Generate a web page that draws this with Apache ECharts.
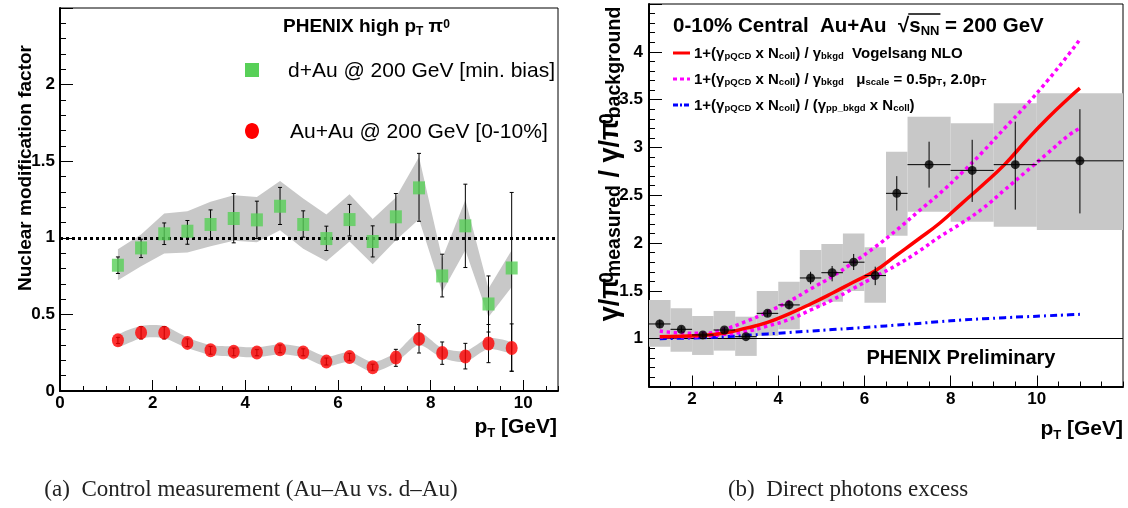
<!DOCTYPE html>
<html><head><meta charset="utf-8">
<script src="https://cdn.jsdelivr.net/npm/echarts@6/dist/echarts.min.js"></script>
<style>html,body{margin:0;padding:0;background:#fff}#c{width:1128px;height:508px}</style>
</head><body><div id="c"></div>
<script>
// ---------- Panel (a): nuclear modification factor ----------
const ptA = [1.25,1.75,2.25,2.75,3.25,3.75,4.25,4.75,5.25,5.75,6.25,6.75,7.25,7.75,8.25,8.75,9.25,9.75];
const dAuR      = [0.821,0.934,1.026,1.043,1.087,1.126,1.117,1.206,1.087,0.995,1.119,0.976,1.137,1.326,0.751,1.078,0.568,0.803];
const dAuErrLo  = [0.767,0.871,0.956,0.958,0.991,0.967,0.995,1.087,1.004,0.917,1.012,0.875,0.986,1.108,0.614,0.806,0.385,0.129];
const dAuErrHi  = [0.875,0.991,1.097,1.113,1.182,1.289,1.239,1.329,1.176,1.076,1.218,1.078,1.289,1.551,0.893,1.350,0.751,1.296];
const dAuBandLo = [0.723,0.815,0.897,0.904,0.945,0.980,0.971,1.050,0.928,0.847,0.976,0.828,0.984,1.121,0.647,0.919,0.483,0.679];
const dAuBandHi = [0.926,1.021,1.159,1.174,1.235,1.278,1.267,1.370,1.257,1.152,1.285,1.122,1.263,1.528,0.865,1.246,0.669,0.919];
const auAuR      = [0.331,0.381,0.381,0.314,0.266,0.257,0.251,0.272,0.251,0.192,0.222,0.155,0.218,0.340,0.248,0.225,0.310,0.281];
const auAuErrLo  = [0.310,0.340,0.340,0.290,0.240,0.230,0.230,0.250,0.230,0.170,0.200,0.135,0.161,0.248,0.174,0.144,0.185,0.129];
const auAuErrHi  = [0.350,0.420,0.420,0.340,0.290,0.280,0.270,0.300,0.275,0.215,0.245,0.175,0.272,0.434,0.320,0.311,0.434,0.438];
const auAuBandLo = [0.290,0.345,0.345,0.280,0.235,0.225,0.220,0.240,0.220,0.160,0.190,0.125,0.185,0.300,0.215,0.190,0.275,0.250];
const auAuBandHi = [0.365,0.425,0.425,0.350,0.300,0.290,0.285,0.305,0.285,0.225,0.255,0.190,0.250,0.380,0.280,0.260,0.345,0.315];
const ticksA = [0,2,4,6,8,10];

// ---------- Panel (b): direct photon excess ----------
const ptB    = [1.25,1.75,2.25,2.75,3.25,3.75,4.25,4.75,5.25,5.75,6.25,6.75,7.5,8.5,9.5,11.0];
const binLo  = [1.0,1.5,2.0,2.5,3.0,3.5,4.0,4.5,5.0,5.5,6.0,6.5,7,8,9,10];
const binHi  = [1.5,2.0,2.5,3.0,3.5,4.0,4.5,5.0,5.5,6.0,6.5,7.0,8,9,10,12];
const ratio  = [1.154,1.098,1.039,1.091,1.021,1.265,1.353,1.635,1.690,1.800,1.660,2.520,2.820,2.760,2.820,2.860];
const statLo = [1.110,1.070,1.010,1.060,1.000,1.230,1.310,1.570,1.600,1.718,1.560,2.340,2.580,2.430,2.350,2.310];
const statHi = [1.200,1.130,1.070,1.120,1.040,1.300,1.400,1.700,1.760,1.886,1.753,2.700,3.060,3.080,3.270,3.400];
const sysLo  = [0.916,0.864,0.830,0.875,0.820,1.030,1.098,1.335,1.387,1.500,1.377,2.077,2.328,2.224,2.170,2.137];
const sysHi  = [1.405,1.318,1.237,1.290,1.230,1.500,1.596,1.928,1.990,2.100,1.956,2.956,3.322,3.253,3.462,3.567];
const thPt   = [1.25,1.75,2.25,2.75,3.25,3.75,4.25,4.75,5.25,5.75,6.25,6.75,7.25,7.75,8.25,8.75,9.25,9.75,10.25,10.75,11.0];
const nloCentral = [1.02,1.025,1.035,1.06,1.11,1.17,1.26,1.363,1.475,1.593,1.71,1.875,2.04,2.21,2.41,2.61,2.82,3.07,3.305,3.52,3.62];
const nloUpper   = [1.08,1.06,1.056,1.10,1.18,1.28,1.39,1.52,1.65,1.80,1.96,2.137,2.33,2.52,2.73,2.956,3.20,3.44,3.70,3.98,4.13];
const nloLower   = [1.02,1.02,1.025,1.045,1.075,1.133,1.20,1.30,1.405,1.527,1.65,1.77,1.91,2.067,2.207,2.364,2.555,2.747,2.94,3.13,3.20];
const ppBkgd     = [1.0,1.005,1.01,1.02,1.035,1.05,1.065,1.08,1.095,1.11,1.125,1.143,1.16,1.178,1.195,1.208,1.22,1.23,1.24,1.25,1.255];
const ticksB = [2,4,6,8,10];

const F = "'Liberation Sans', Arial, Helvetica, sans-serif";
const FS = "'Liberation Serif', 'Times New Roman', serif";
const GRAY = '#c8c8c8';
const GREEN = '#58d058';
const zip = (...a) => a[0].map((_, i) => a.map(r => r[i]));

function rich(main, sub, weight, pt, pb) {
  pt = pt == null ? 2 : pt;
  pb = pb == null ? Math.round(main * 0.22) : pb;
  return {
    m: {fontSize: main, fontWeight: weight, fontFamily: F, lineHeight: main, padding: [pt, 0, pb, 0], fill: '#000'},
    d: {fontSize: sub, fontWeight: weight, fontFamily: F, lineHeight: sub, verticalAlign: 'bottom', fill: '#000'},
    u: {fontSize: sub, fontWeight: weight, fontFamily: F, lineHeight: sub, verticalAlign: 'top', fill: '#000'},
    uz: {fontSize: sub, fontWeight: weight, fontFamily: F, lineHeight: sub, verticalAlign: 'top', width: 1, fill: '#000'}
  };
}

function errRender(params, api) {
  const x = api.value(0), lo = api.value(1), hi = api.value(2);
  const p1 = api.coord([x, lo]), p2 = api.coord([x, hi]);
  const c = 2, st = {stroke: '#000', lineWidth: 1};
  return {type: 'group', children: [
    {type: 'line', shape: {x1: p1[0], y1: p1[1], x2: p2[0], y2: p2[1]}, style: st},
    {type: 'line', shape: {x1: p1[0] - c, y1: p1[1], x2: p1[0] + c, y2: p1[1]}, style: st},
    {type: 'line', shape: {x1: p2[0] - c, y1: p2[1], x2: p2[0] + c, y2: p2[1]}, style: st}
  ]};
}
function bandRender(lo, hi, smooth) {
  return function (params, api) {
    if (params.dataIndex !== 0) return null;
    const top = ptA.map((x, i) => api.coord([x, hi[i]]));
    const bot = ptA.map((x, i) => api.coord([x, lo[i]])).reverse();
    return {type: 'polygon', shape: {points: top.concat(bot), smooth: smooth}, style: {fill: GRAY}};
  };
}
function boxRender(params, api) {
  const a = api.coord([api.value(0), api.value(3)]);
  const b = api.coord([api.value(1), api.value(2)]);
  return {type: 'rect', shape: {x: a[0], y: a[1], width: b[0] - a[0], height: b[1] - a[1]}, style: {fill: GRAY}};
}
function statRender(params, api) {
  const x = api.value(0), y = api.value(1);
  const l = api.coord([api.value(2), y]), r = api.coord([api.value(3), y]);
  const b = api.coord([x, api.value(4)]), t = api.coord([x, api.value(5)]);
  const st = {stroke: '#000', lineWidth: 1};
  return {type: 'group', children: [
    {type: 'line', shape: {x1: l[0], y1: l[1], x2: r[0], y2: r[1]}, style: st},
    {type: 'line', shape: {x1: b[0], y1: b[1], x2: t[0], y2: t[1]}, style: st}
  ]};
}

// text measuring for the overline of the sqrt sign
const mctx = document.createElement('canvas').getContext('2d');
function tw(txt, font) { mctx.font = font; return mctx.measureText(txt).width; }
const TSZ = 20.5, TSUB = 13;
const titleX = 673;
const barX1 = titleX + tw('0-10% Central  Au+Au  √', 'bold ' + TSZ + 'px ' + F) - 1;
const barX2 = barX1 + 1 + tw('s', 'bold ' + TSZ + 'px ' + F) + tw('NN', 'bold ' + TSUB + 'px ' + F) + 1;

const lbl = {color: '#000', fontFamily: F, fontWeight: 'bold', fontSize: 17};
const axLine = {show: true, lineStyle: {color: '#000', width: 2}};
const entryRich = rich(15, 9.5, 'bold');

const chart = echarts.init(document.getElementById('c'), null, {renderer: 'canvas'});
const option = {
  animation: false,
  backgroundColor: '#fff',
  grid: [
    {left: 60, top: 8, width: 498, height: 383, show: true, borderColor: '#000', borderWidth: 1, backgroundColor: 'transparent'},
    {left: 649, top: 4, width: 474, height: 382.5, show: true, borderColor: '#000', borderWidth: 1, backgroundColor: 'transparent'}
  ],
  xAxis: [
    {gridIndex: 0, type: 'value', position: 'bottom', min: 0, max: 10.75, axisLine: axLine,
      axisTick: {inside: true, length: 11, customValues: ticksA, lineStyle: {color: '#000'}},
      axisLabel: Object.assign({customValues: ticksA, margin: 4}, lbl), splitLine: {show: false}},
    {gridIndex: 0, type: 'value', position: 'bottom', min: 0, max: 10.75, interval: 0.5, axisLine: {show: false},
      axisTick: {inside: true, length: 5, lineStyle: {color: '#000'}}, axisLabel: {show: false}, splitLine: {show: false}},
    {gridIndex: 1, type: 'value', position: 'bottom', min: 1, max: 12, axisLine: axLine,
      axisTick: {inside: true, length: 11, customValues: ticksB, lineStyle: {color: '#000'}},
      axisLabel: Object.assign({customValues: ticksB, margin: 4}, lbl), splitLine: {show: false}},
    {gridIndex: 1, type: 'value', position: 'bottom', min: 1, max: 12, interval: 0.5, axisLine: {show: false},
      axisTick: {inside: true, length: 5, lineStyle: {color: '#000'}}, axisLabel: {show: false}, splitLine: {show: false}}
  ],
  yAxis: [
    {gridIndex: 0, type: 'value', min: 0, max: 2.5, interval: 0.5, axisLine: axLine,
      axisTick: {inside: true, length: 13, lineStyle: {color: '#000'}},
      minorTick: {show: true, splitNumber: 5, length: 6, lineStyle: {color: '#000'}},
      axisLabel: Object.assign({margin: 5, showMaxLabel: false}, lbl), splitLine: {show: false}, minorSplitLine: {show: false}},
    {gridIndex: 1, type: 'value', min: 0.5, max: 4.5, interval: 0.5, axisLine: axLine,
      axisTick: {inside: true, length: 13, lineStyle: {color: '#000'}},
      minorTick: {show: true, splitNumber: 5, length: 6, lineStyle: {color: '#000'}},
      axisLabel: Object.assign({margin: 6, showMaxLabel: false, showMinLabel: false}, lbl), splitLine: {show: false}, minorSplitLine: {show: false}}
  ],
  series: [
    // panel a
    {type: 'custom', xAxisIndex: 0, yAxisIndex: 0, z: 1, renderItem: bandRender(dAuBandLo, dAuBandHi, 0),
      data: zip(ptA, dAuBandLo, dAuBandHi), encode: {x: 0, y: [1, 2]}},
    {type: 'custom', xAxisIndex: 0, yAxisIndex: 0, z: 1, renderItem: bandRender(auAuBandLo, auAuBandHi, 0.25),
      data: zip(ptA, auAuBandLo, auAuBandHi), encode: {x: 0, y: [1, 2]},
      markLine: {silent: true, z: 2, symbol: 'none', label: {show: false},
        lineStyle: {color: '#000', type: [3, 3], width: 3}, data: [{yAxis: 1}]}},
    {type: 'custom', xAxisIndex: 0, yAxisIndex: 0, z: 6, renderItem: errRender,
      data: zip(ptA, dAuErrLo, dAuErrHi), encode: {x: 0, y: [1, 2]}},
    {type: 'custom', xAxisIndex: 0, yAxisIndex: 0, z: 6, renderItem: errRender,
      data: zip(ptA, auAuErrLo, auAuErrHi), encode: {x: 0, y: [1, 2]}},
    {type: 'scatter', xAxisIndex: 0, yAxisIndex: 0, z: 7, symbol: 'rect', symbolSize: [12, 13],
      itemStyle: {color: GREEN}, data: zip(ptA, dAuR)},
    {type: 'scatter', xAxisIndex: 0, yAxisIndex: 0, z: 7, symbol: 'circle', symbolSize: [12, 14],
      itemStyle: {color: '#ff0000'}, data: zip(ptA, auAuR)},
    // panel b
    {type: 'custom', xAxisIndex: 2, yAxisIndex: 1, z: 1, renderItem: boxRender,
      data: zip(binLo, binHi, sysLo, sysHi), encode: {x: [0, 1], y: [2, 3]},
      markLine: {silent: true, z: 2, symbol: 'none', label: {show: false},
        lineStyle: {color: '#000', type: 'solid', width: 1}, data: [{yAxis: 1}]}},
    {type: 'line', xAxisIndex: 2, yAxisIndex: 1, z: 5, smooth: true, symbol: 'none',
      lineStyle: {color: '#0000ff', width: 3, type: [7, 4, 2, 4]}, data: zip(thPt, ppBkgd)},
    {type: 'line', xAxisIndex: 2, yAxisIndex: 1, z: 5, smooth: true, symbol: 'none',
      lineStyle: {color: '#ff00ff', width: 3.5, type: [3.5, 3.5]}, data: zip(thPt, nloUpper)},
    {type: 'line', xAxisIndex: 2, yAxisIndex: 1, z: 5, smooth: true, symbol: 'none',
      lineStyle: {color: '#ff00ff', width: 3.5, type: [3.5, 3.5]}, data: zip(thPt, nloLower)},
    {type: 'line', xAxisIndex: 2, yAxisIndex: 1, z: 5, smooth: true, symbol: 'none',
      lineStyle: {color: '#ff0000', width: 3.5}, data: zip(thPt, nloCentral)},
    {type: 'custom', xAxisIndex: 2, yAxisIndex: 1, z: 7, renderItem: statRender,
      data: zip(ptB, ratio, binLo, binHi, statLo, statHi), encode: {x: [0, 2, 3], y: [1, 4, 5]}},
    {type: 'scatter', xAxisIndex: 2, yAxisIndex: 1, z: 8, symbol: 'circle', symbolSize: 9,
      itemStyle: {color: '#000'}, data: zip(ptB, ratio)}
  ],
  graphic: [
    // panel a texts
    {type: 'text', x: 26, y: 168, rotation: Math.PI / 2, style: {text: 'Nuclear modification factor', fill: '#000',
      font: 'bold 19px ' + F, align: 'center', verticalAlign: 'middle'}},
    {type: 'text', x: 557, y: 429, style: {text: '{m|p}{d|T}{m| [GeV]}', rich: rich(21, 13, 'bold'), align: 'right', verticalAlign: 'middle'}},
    {type: 'text', x: 283, y: 28, style: {text: '{m|PHENIX high p}{d|T}{m| π}{u|0}', rich: rich(19, 12, 'bold'), align: 'left', verticalAlign: 'middle'}},
    {type: 'rect', shape: {x: 245, y: 63, width: 14, height: 14}, style: {fill: GREEN}},
    {type: 'text', x: 288, y: 71, style: {text: 'd+Au @ 200 GeV [min. bias]', fill: '#000', font: '21px ' + F, align: 'left', verticalAlign: 'middle'}},
    {type: 'ellipse', shape: {cx: 252, cy: 131, rx: 7, ry: 8}, style: {fill: '#ff0000'}},
    {type: 'text', x: 290, y: 132, style: {text: 'Au+Au @ 200 GeV [0-10%]', fill: '#000', font: '21px ' + F, align: 'left', verticalAlign: 'middle'}},
    {type: 'text', x: 251, y: 490, style: {text: '(a)  Control measurement (Au–Au vs. d–Au)', fill: '#222', font: '23px ' + FS, align: 'center', verticalAlign: 'middle'}},
    // panel b texts
    {type: 'text', x: 611, y: 164, rotation: Math.PI / 2, style: {
      text: '{m|γ/π}{uz|0}{d|measured}{m| / γ/π}{uz|0}{d|background}', rich: rich(27, 19.5, 'bold', 5, 6), align: 'center', verticalAlign: 'middle'}},
    {type: 'text', x: 1123, y: 431, style: {text: '{m|p}{d|T}{m| [GeV]}', rich: rich(21, 13, 'bold'), align: 'right', verticalAlign: 'middle'}},
    {type: 'text', x: titleX, y: 28, style: {text: '{m|0-10% Central  Au+Au  √s}{d|NN}{m| = 200 GeV}', rich: rich(TSZ, TSUB, 'bold'), align: 'left', verticalAlign: 'middle'}},
    {type: 'line', shape: {x1: barX1, y1: 14, x2: barX2, y2: 14}, style: {stroke: '#000', lineWidth: 1.5}},
    {type: 'line', shape: {x1: 673, y1: 53, x2: 690, y2: 53}, style: {stroke: '#ff0000', lineWidth: 3}},
    {type: 'line', shape: {x1: 673, y1: 79, x2: 690, y2: 79}, style: {stroke: '#ff00ff', lineWidth: 3, lineDash: [4, 3]}},
    {type: 'line', shape: {x1: 673, y1: 105, x2: 690, y2: 105}, style: {stroke: '#0000ff', lineWidth: 3, lineDash: [5, 2, 2, 2]}},
    {type: 'text', x: 694, y: 54, style: {text: '{m|1+(γ}{d|pQCD}{m| x N}{d|coll}{m|) / γ}{d|bkgd}{m|  Vogelsang NLO}', rich: entryRich, align: 'left', verticalAlign: 'middle'}},
    {type: 'text', x: 694, y: 80, style: {text: '{m|1+(γ}{d|pQCD}{m| x N}{d|coll}{m|) / γ}{d|bkgd}{m|   μ}{d|scale}{m| = 0.5p}{d|T}{m|, 2.0p}{d|T}', rich: entryRich, align: 'left', verticalAlign: 'middle'}},
    {type: 'text', x: 694, y: 106, style: {text: '{m|1+(γ}{d|pQCD}{m| x N}{d|coll}{m|) / (γ}{d|pp_bkgd}{m| x N}{d|coll}{m|)}', rich: entryRich, align: 'left', verticalAlign: 'middle'}},
    {type: 'text', x: 961, y: 358, style: {text: 'PHENIX Preliminary', fill: '#000', font: 'bold 20px ' + F, align: 'center', verticalAlign: 'middle'}},
    {type: 'text', x: 848, y: 490, style: {text: '(b)  Direct photons excess', fill: '#222', font: '23px ' + FS, align: 'center', verticalAlign: 'middle'}}
  ]
};
chart.setOption(option);
</script>
</body></html>
